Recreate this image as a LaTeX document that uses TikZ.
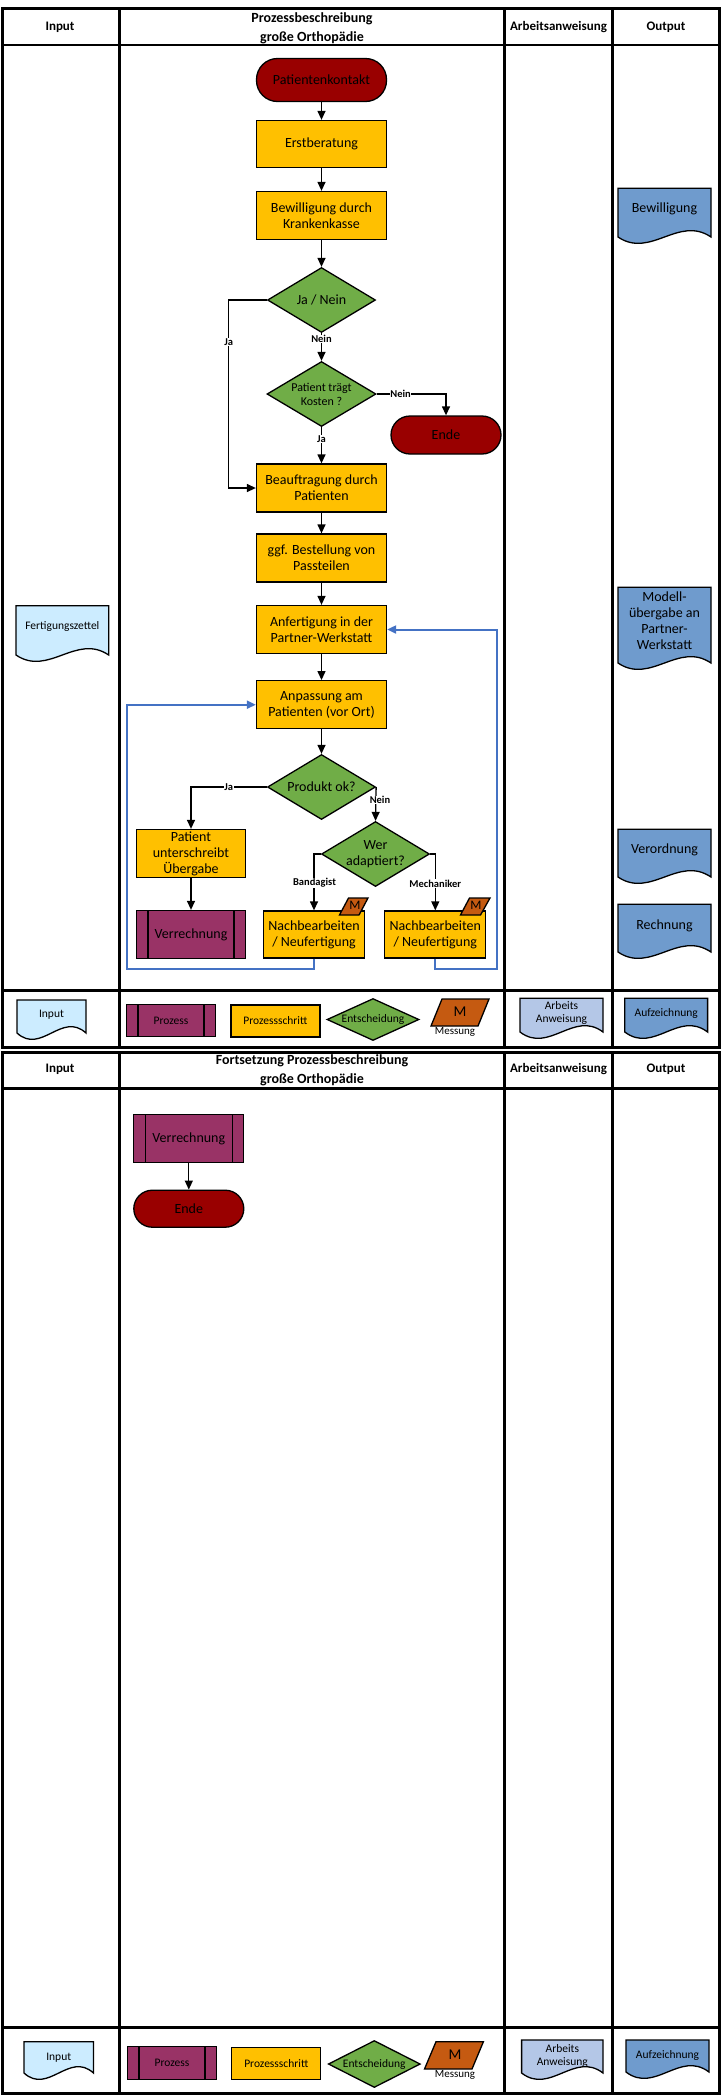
\documentclass[tikz,border=0pt]{standalone}
\usepackage{fontspec}
\setmainfont{Carlito}
\usetikzlibrary{arrows.meta,shapes.geometric,calc}
\definecolor{cOrange}{HTML}{FFC000}
\definecolor{cGreen}{HTML}{70AD47}
\definecolor{cPurple}{HTML}{993366}
\definecolor{cRed}{HTML}{990000}
\definecolor{cM}{HTML}{C55A11}
\definecolor{cBlue}{HTML}{4472C4}
\definecolor{cDoc}{HTML}{6F9BCD}
\definecolor{cIn}{HTML}{CCECFF}
\definecolor{cArb}{HTML}{B4C7E7}
\newcommand{\docshape}[9]{%
  \filldraw[line width=1.3pt, fill=#6] (#2,#4) -- (#3,#4) -- (#3,#5)
    .. controls ({#2+0.65*(#3-#2)},{#5-22}) and ({#2+0.35*(#3-#2)},{#5+22}) .. (#2,#5) -- cycle;
  \node[align=center, font=#9] (#1) at ({(#2+#3)/2},#7) {#8};
}
\begin{document}
\begin{tikzpicture}[x=1pt,y=-1pt,
  tline/.style={line width=3pt},
  hdr/.style={font=\fontsize{13}{16}\selectfont\bfseries, align=center},
  ttl/.style={font=\fontsize{14}{19}\selectfont\bfseries, align=center},
  stepbox/.style={draw, line width=1.3pt, fill=cOrange, minimum width=130pt, minimum height=48pt, align=center, inner sep=1pt, font=\fontsize{14}{16}\selectfont},
  term/.style={draw, line width=1.3pt, fill=cRed, align=center, font=\fontsize{14}{16}\selectfont},
  dec/.style={diamond, draw, fill=cGreen, line width=1.3pt, inner sep=0pt},
  dtext/.style={font=\fontsize{14}{16}\selectfont, align=center},
  proc/.style={draw, fill=cPurple, line width=1.3pt, align=center, font=\fontsize{14}{16}\selectfont,
    path picture={\draw[line width=1.3pt] ([xshift=11.5pt]path picture bounding box.north west) -- ([xshift=11.5pt]path picture bounding box.south west);
      \draw[line width=1.3pt] ([xshift=-11.5pt]path picture bounding box.north east) -- ([xshift=-11.5pt]path picture bounding box.south east);}},
  arr/.style={line width=1.3pt, -{Triangle[length=9pt,width=8pt]}},
  barr/.style={line width=2pt, draw=cBlue, -{Triangle[length=9pt,width=8pt]}},
  lbl/.style={font=\fontsize{10.5}{12}\selectfont\bfseries, fill=white, inner sep=0.5pt},
  msr/.style={line width=1.3pt, fill=cM},
]
\useasboundingbox (0,0) rectangle (721,2097);

% ---------- table 1 ----------
\draw[tline] (2,8.5) rectangle (719,1047.5);
\draw[tline] (119.5,8.5) -- (119.5,1047.5);
\draw[tline] (504.5,8.5) -- (504.5,1047.5);
\draw[tline] (612.5,8.5) -- (612.5,1047.5);
\draw[line width=2.5pt] (2,45) -- (719,45);
\draw[tline] (2,990.5) -- (719,990.5);
\node[hdr] (h1a) at (60,27) {Input};
\node[ttl] (h1b) at (312,28) {Prozessbeschreibung\\große Orthopädie};
\node[hdr] (h1c) at (558.5,27) {Arbeitsanweisung};
\node[hdr] (h1d) at (666,27) {Output};

% ---------- table 2 ----------
\draw[tline] (2,1052.5) rectangle (719,2093);
\draw[tline] (119.5,1052.5) -- (119.5,2093);
\draw[tline] (504.5,1052.5) -- (504.5,2093);
\draw[tline] (612.5,1052.5) -- (612.5,2093);
\draw[line width=2.5pt] (2,1088.5) -- (719,1088.5);
\draw[tline] (2,2027) -- (719,2027);
\node[hdr] (h2a) at (60,1069) {Input};
\node[ttl] (h2b) at (312,1070.5) {Fortsetzung Prozessbeschreibung\\große Orthopädie};
\node[hdr] (h2c) at (558.5,1069) {Arbeitsanweisung};
\node[hdr] (h2d) at (666,1069) {Output};

% ---------- flow, page 1 ----------
\node[term, minimum width=130pt, minimum height=43pt, rounded corners=21pt] (start) at (321.5,80) {Patientenkontakt};
\node[stepbox, minimum height=47pt] (erst) at (321.5,144) {Erstberatung};
\node[stepbox] (bew) at (321.5,215.5) {Bewilligung durch\\Krankenkasse};
\node[dec, minimum width=108pt, minimum height=65pt, label={[dtext]center:Ja / Nein}] (d1) at (321.5,300) {};
\node[dec, minimum width=109pt, minimum height=65pt, label={[dtext, font=\fontsize{12}{14}\selectfont]center:{Patient trägt\\Kosten ?}}] (d2) at (321.5,394) {};
\node[term, minimum width=110pt, minimum height=38pt, rounded corners=19pt] (ende1) at (446,435) {Ende};
\node[stepbox] (beauf) at (321.5,488) {Beauftragung durch\\Patienten};
\node[stepbox] (bestell) at (321.5,558) {ggf. Bestellung von\\Passteilen};
\node[stepbox] (anf) at (321.5,629.5) {Anfertigung in der\\Partner-Werkstatt};
\node[stepbox] (anp) at (321.5,704.7) {Anpassung am\\Patienten (vor Ort)};
\node[dec, minimum width=108pt, minimum height=65pt, label={[dtext]center:Produkt ok?}] (d3) at (321.5,787) {};
\node[stepbox, minimum width=109pt] (pu) at (191,853.5) {Patient\\unterschreibt\\Übergabe};
\node[proc, minimum width=109pt, minimum height=48pt] (ver1) at (191,934.5) {Verrechnung};
\node[dec, minimum width=108pt, minimum height=65pt, label={[dtext]center:{Wer\\adaptiert?}}] (d4) at (375.5,854) {};
\node[stepbox, minimum width=101pt, minimum height=47pt] (nb1) at (314,934.5) {Nachbearbeiten\\/ Neufertigung};
\node[stepbox, minimum width=101pt, minimum height=47pt] (nb2) at (435.3,934.5) {Nachbearbeiten\\/ Neufertigung};
\filldraw[msr] (348.5,898) -- (368,898) -- (359,915) -- (339.5,915) -- cycle;
\node[font=\fontsize{13}{14}\selectfont, inner sep=0pt] (m1) at (355,905.5) {M};
\filldraw[msr] (469.5,898) -- (490,898) -- (480.5,915) -- (460.5,915) -- cycle;
\node[font=\fontsize{13}{14}\selectfont, inner sep=0pt] (m2) at (476,905.5) {M};

% connectors
\draw[arr] (start) -- (erst);
\draw[arr] (erst) -- (bew);
\draw[arr] (bew) -- (d1);
\draw[arr] (d1.south) -- (d2.north);
\node[lbl] (lb1) at (321.5,339) {Nein};
\coordinate (ja1) at (228.8,300);
\draw[arr] (d1.west) -- (ja1) |- (beauf.west);
\node[lbl] (lb2) at (228.8,341.7) {Ja};
\draw[arr] (d2.east) -| (ende1.north);
\node[lbl] (lb3) at (400.6,394) {Nein};
\draw[arr] (d2.south) -- (beauf.north);
\node[lbl] (lb4) at (321.5,438.7) {Ja};
\draw[arr] (beauf) -- (bestell);
\draw[arr] (bestell) -- (anf);
\draw[arr] (anf) -- (anp);
\draw[arr] (anp) -- (d3);
\draw[arr] (d3.west) -| (pu.north);
\node[lbl] (lb5) at (228.8,787) {Ja};
\draw[arr] (d3.east) -- (d4.north);
\node[lbl] (lb6) at (380,800) {Nein};
\draw[arr] (pu) -- (ver1);
\draw[arr] (d4.west) -| (nb1.north);
\node[lbl] (lb7) at (314.5,882.7) {Bandagist};
\draw[arr] (d4.east) -| (nb2.north);
\node[lbl] (lb8) at (435.3,883.7) {Mechaniker};
\coordinate (bl1) at (127,969);
\coordinate (bl2) at (497,969);
\draw[barr] (nb1.south) |- (bl1) |- (anp.west);
\draw[barr] (nb2.south) |- (bl2) |- (anf.east);

% documents page 1
\docshape{inFert}{16}{108.7}{605.7}{655}{cIn}{626}{Fertigungszettel}{\fontsize{11.5}{13}\selectfont}
\docshape{oBew}{618}{711}{188.3}{237}{cDoc}{209}{Bewilligung}{\fontsize{14}{16}\selectfont}
\docshape{oMod}{618}{711}{587.3}{663}{cDoc}{621}{Modell-\\übergabe an\\Partner-\\Werkstatt}{\fontsize{14}{16}\selectfont}
\docshape{oVer}{618}{711}{829.3}{877}{cDoc}{850}{Verordnung}{\fontsize{14}{16}\selectfont}
\docshape{oRech}{618}{711}{904.3}{952}{cDoc}{925.7}{Rechnung}{\fontsize{14}{16}\selectfont}

% legend row 1
\docshape{lgIn1}{17}{86}{1000}{1033}{cIn}{1014.3}{Input}{\fontsize{11.5}{12.6}\selectfont}
\node[proc, minimum width=89pt, minimum height=32pt, font=\fontsize{11.5}{13}\selectfont] (lgP1) at (171,1020.5) {Prozess};
\node[stepbox, minimum width=89pt, minimum height=32pt, font=\fontsize{11.5}{13}\selectfont] (lgS1) at (275.4,1021) {Prozessschritt};
\node[dec, minimum width=92pt, minimum height=42pt, label={[font=\fontsize{11.5}{13}\selectfont]center:Entscheidung}] (lgD1) at (373,1019.5) {};
\filldraw[msr] (442,999) -- (489,999) -- (478,1026) -- (431,1026) -- cycle;
\node[font=\fontsize{15}{16}\selectfont] (lgM1) at (460,1011.7) {M};
\node[font=\fontsize{11}{12}\selectfont] (lgMs1) at (455,1032) {Messung};
\docshape{lgA1}{520}{603}{998.3}{1032}{cArb}{1013}{Arbeits\\Anweisung}{\fontsize{11.5}{12.6}\selectfont}
\docshape{lgAu1}{624.8}{707.6}{998.3}{1032}{cDoc}{1013.3}{Aufzeichnung}{\fontsize{11.5}{12.6}\selectfont}

% ---------- flow, page 2 ----------
\node[proc, minimum width=110pt, minimum height=48.5pt] (ver2) at (188.8,1138.4) {Verrechnung};
\node[term, minimum width=110pt, minimum height=37pt, rounded corners=18.5pt] (ende2) at (188.8,1208.7) {Ende};
\draw[arr] (ver2) -- (ende2);

% legend row 2
\docshape{lgIn2}{24}{93.5}{2041.7}{2073}{cIn}{2057.7}{Input}{\fontsize{11.5}{12.6}\selectfont}
\node[proc, minimum width=89pt, minimum height=33pt, font=\fontsize{11.5}{13}\selectfont] (lgP2) at (172,2062.7) {Prozess};
\node[stepbox, minimum width=89pt, minimum height=32pt, font=\fontsize{11.5}{13}\selectfont] (lgS2) at (276.3,2063.3) {Prozessschritt};
\node[dec, minimum width=92pt, minimum height=47pt, label={[font=\fontsize{11.5}{13}\selectfont]center:Entscheidung}] (lgD2) at (374.3,2064) {};
\filldraw[msr] (436,2041.7) -- (483.4,2041.7) -- (472,2069) -- (424.5,2069) -- cycle;
\node[font=\fontsize{15}{16}\selectfont] (lgM2) at (455,2055) {M};
\node[font=\fontsize{11}{12}\selectfont] (lgMs2) at (455,2075) {Messung};
\docshape{lgA2}{521.6}{603}{2040}{2073}{cArb}{2056}{Arbeits\\Anweisung}{\fontsize{11.5}{12.6}\selectfont}
\docshape{lgAu2}{626}{709}{2040}{2072}{cDoc}{2055}{Aufzeichnung}{\fontsize{11.5}{12.6}\selectfont}
\end{tikzpicture}
\end{document}
